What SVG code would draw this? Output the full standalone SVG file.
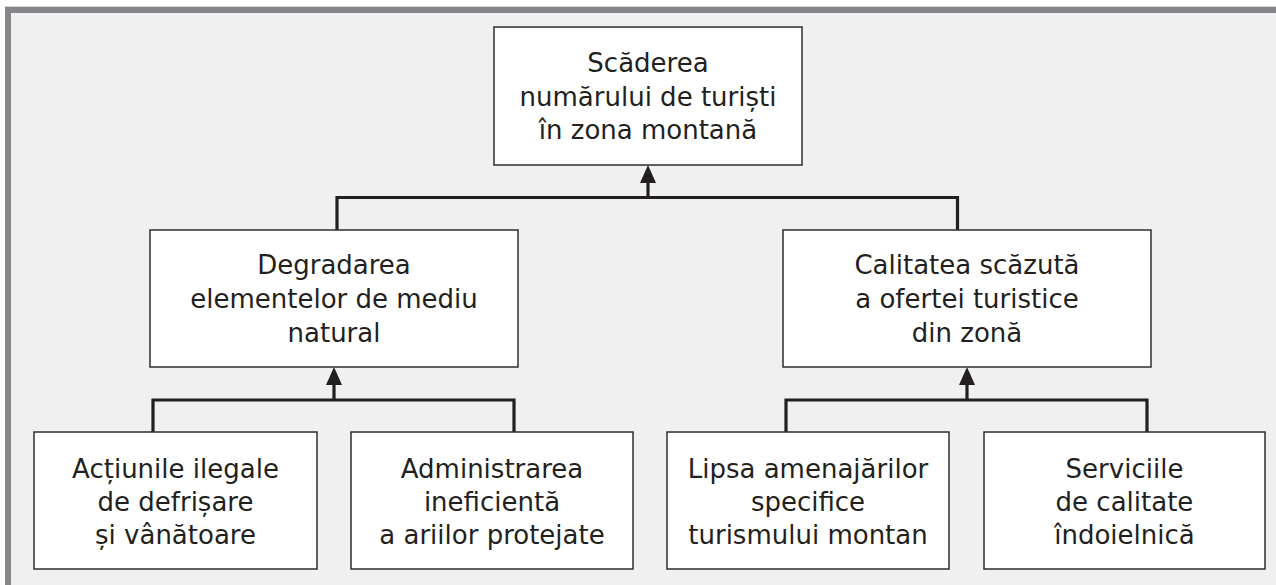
<svg xmlns="http://www.w3.org/2000/svg" width="1276" height="585" viewBox="0 0 1276 585">
  <defs>
    <style>
      .box { fill: #ffffff; stroke: #2e2e2e; stroke-width: 1.5; }
      .lbl { font-family: "DejaVu Sans", "Liberation Sans", sans-serif; font-size: 26px; fill: #231f20; text-anchor: middle; }
      .conn { fill: none; stroke: #231f20; stroke-width: 3.2; }
    </style>
    <marker id="arr" viewBox="0 0 18 16" refX="8" refY="8" markerWidth="18" markerHeight="16" markerUnits="userSpaceOnUse" orient="auto">
      <path d="M0,0 L18,8 L0,16 z" fill="#231f20"/>
    </marker>
  </defs>

  <rect x="0" y="0" width="1276" height="585" fill="#ffffff"/>
  <rect x="5" y="7" width="1271" height="578" fill="#f0f0f0"/>
  <line x1="5" y1="6.5" x2="1276" y2="6.5" stroke="#d2d2d2" stroke-width="1"/>
  <rect x="5" y="7" width="1271" height="6" fill="#868589"/>
  <rect x="5" y="7" width="6" height="578" fill="#868589"/>

  <g id="connectors">
    <path class="conn" d="M337,230 V197.5 H957.5 V230"/>
    <line class="conn" x1="648" y1="197.5" x2="648" y2="175" marker-end="url(#arr)"/>
    <path class="conn" d="M153,432 V400 H514 V432"/>
    <line class="conn" x1="334" y1="400" x2="334" y2="377" marker-end="url(#arr)"/>
    <path class="conn" d="M786,432 V400 H1147 V432"/>
    <line class="conn" x1="967" y1="400" x2="967" y2="377" marker-end="url(#arr)"/>
  </g>

  <g id="node-top">
    <rect class="box" x="494" y="27" width="308" height="138"/>
    <text class="lbl" x="648" y="72">Scăderea</text>
    <text class="lbl" x="648" y="105.5">numărului de turiști</text>
    <text class="lbl" x="648" y="138.5">în zona montană</text>
  </g>

  <g id="node-degradarea">
    <rect class="box" x="150" y="230" width="368" height="137"/>
    <text class="lbl" x="334" y="273.5">Degradarea</text>
    <text class="lbl" x="334" y="307.5">elementelor de mediu</text>
    <text class="lbl" x="334" y="341.5">natural</text>
  </g>

  <g id="node-calitatea">
    <rect class="box" x="783" y="230" width="368" height="137"/>
    <text class="lbl" x="967" y="273.5">Calitatea scăzută</text>
    <text class="lbl" x="967" y="307.5">a ofertei turistice</text>
    <text class="lbl" x="967" y="341.5">din zonă</text>
  </g>

  <g id="node-actiunile">
    <rect class="box" x="34" y="432" width="283" height="137"/>
    <text class="lbl" x="175.5" y="477.5">Acțiunile ilegale</text>
    <text class="lbl" x="175.5" y="510.5">de defrișare</text>
    <text class="lbl" x="175.5" y="543.5">și vânătoare</text>
  </g>

  <g id="node-administrarea">
    <rect class="box" x="351" y="432" width="282" height="137"/>
    <text class="lbl" x="492" y="477.5">Administrarea</text>
    <text class="lbl" x="492" y="510.5">ineficientă</text>
    <text class="lbl" x="492" y="543.5">a ariilor protejate</text>
  </g>

  <g id="node-lipsa">
    <rect class="box" x="667" y="432" width="282" height="137"/>
    <text class="lbl" x="808" y="477.5">Lipsa amenajărilor</text>
    <text class="lbl" x="808" y="510.5">specifice</text>
    <text class="lbl" x="808" y="543.5">turismului montan</text>
  </g>

  <g id="node-serviciile">
    <rect class="box" x="984" y="432" width="281" height="137"/>
    <text class="lbl" x="1124.5" y="477.5">Serviciile</text>
    <text class="lbl" x="1124.5" y="510.5">de calitate</text>
    <text class="lbl" x="1124.5" y="543.5">îndoielnică</text>
  </g>
</svg>
